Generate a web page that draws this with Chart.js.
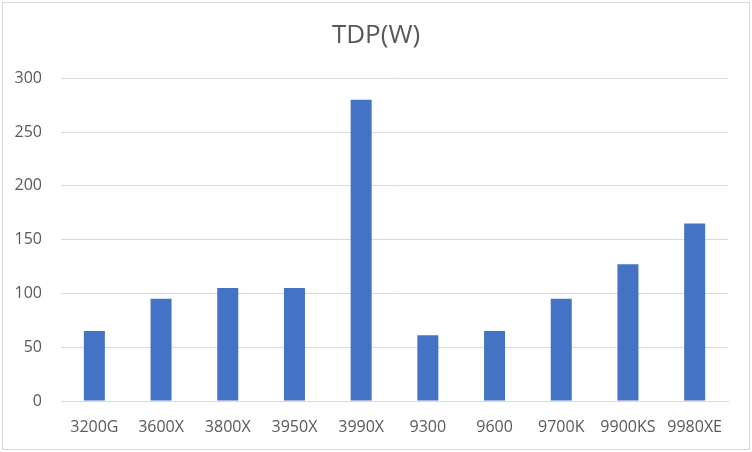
<!DOCTYPE html>
<html>
<head>
<meta charset="utf-8">
<script src="https://cdn.jsdelivr.net/npm/chart.js@4/dist/chart.umd.min.js"></script>
<style>
  html, body { margin: 0; padding: 0; background: #fff; }
  #box { position: absolute; left: 2px; top: 2px; width: 746px; height: 446px; border: 1px solid #d9d9d9; }
</style>
</head>
<body>
<div id="box"><canvas id="tdp" width="746" height="446"></canvas></div>
<script>
var cpus = ['3200G', '3600X', '3800X', '3950X', '3990X', '9300', '9600', '9700K', '9900KS', '9980XE'];
var tdpWatts = [65, 95, 105, 105, 280, 61, 65, 95, 127, 165];
var yTicks = [0, 50, 100, 150, 200, 250, 300];

var ctx = document.getElementById('tdp').getContext('2d');
var grey = '#595959';

var chart = new Chart(ctx, {
    type: 'bar',
    data: {
        labels: cpus,
        datasets: [{
            label: 'TDP(W)',
            data: tdpWatts,
            backgroundColor: '#4472c4',
            barPercentage: 0.315,
            categoryPercentage: 1
        }]
    },
    options: {
        responsive: false,
        animation: false,
        plugins: {
            legend: { display: false },
            tooltip: { enabled: false },
            title: {
                display: true,
                text: 'TDP(W)',
                color: grey,
                font: { family: 'Open Sans', size: 26, weight: 'normal' },
                padding: { top: 17, bottom: 27 }
            }
        },
        scales: {
            x: {
                grid: { display: false, drawTicks: false },
                border: { display: true, color: '#d9d9d9' },
                ticks: {
                    color: grey,
                    padding: 17,
                    maxRotation: 0,
                    font: { family: 'Open Sans', size: 16 }
                },
                afterFit: function (s) { s.height = 48; }
            },
            y: {
                min: yTicks[0],
                max: yTicks[yTicks.length - 1],
                afterBuildTicks: function (s) {
                    s.ticks = yTicks.map(function (v) { return { value: v }; });
                },
                grid: { color: '#d9d9d9', drawTicks: false },
                border: { display: false },
                ticks: {
                    color: grey,
                    padding: 19,
                    font: { family: 'Open Sans', size: 16 }
                },
                afterFit: function (s) { s.width = 58; }
            },
            // empty right-hand spacer so the title stays centred on the whole box
            spacer: {
                type: 'linear',
                position: 'right',
                grid: { display: false, drawTicks: false },
                border: { display: false },
                ticks: { display: false },
                afterFit: function (s) { s.width = 21; }
            }
        }
    }
});
</script>
</body>
</html>
